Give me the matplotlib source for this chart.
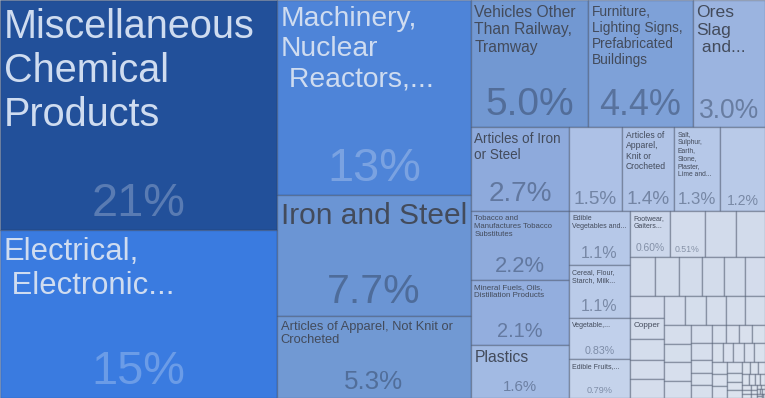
import matplotlib
matplotlib.use('Agg')
import matplotlib.pyplot as plt
import matplotlib.colors as mcolors
from matplotlib.patches import Rectangle

LARGURA, ALTURA = 765, 398  # tamanho da imagem em pixels (dpi 100)
PHI = (1 + 5 ** 0.5) / 2    # razao usada pelo squarify do d3

# Participacao de cada produto (%), em ordem decrescente
participacoes = [
    20.93, 15.28, 12.42, 7.71, 5.22,
    4.88, 4.38, 3.00,
    2.70, 2.22, 2.09, 1.71,
    1.47, 1.45, 1.27, 1.24,
    1.08, 1.07, 0.82, 0.78,
    0.59, 0.52, 0.47, 0.43,
    0.32, 0.31, 0.29, 0.28, 0.27, 0.26,
    0.25, 0.24, 0.23, 0.22, 0.21,
    0.20, 0.20, 0.19, 0.19, 0.19,
    0.16, 0.16, 0.16, 0.15,
    0.13, 0.12, 0.095, 0.09, 0.09,
    0.077, 0.077, 0.077, 0.077,
    0.066, 0.066, 0.066, 0.066, 0.066,
    0.059, 0.059, 0.059,
    0.05, 0.045, 0.04, 0.036, 0.033, 0.03, 0.027, 0.024, 0.021, 0.019,
    0.017, 0.015, 0.013, 0.011, 0.01, 0.009, 0.008, 0.007, 0.006, 0.005,
    0.004, 0.004, 0.003, 0.003, 0.002, 0.002,
]

# Nomes (ja quebrados em linhas como no original); "" = sem nome
nomes = [
    "Miscellaneous\nChemical\nProducts",
    "Electrical,\n Electronic...",
    "Machinery,\nNuclear\n Reactors,...",
    "Iron and Steel",
    "Articles of Apparel, Not Knit or\nCrocheted",
    "Vehicles Other\nThan Railway,\nTramway",
    "Furniture,\nLighting Signs,\nPrefabricated\nBuildings",
    "Ores\nSlag\n and...",
    "Articles of Iron\nor Steel",
    "Tobacco and\nManufactures Tobacco\nSubstitutes",
    "Mineral Fuels, Oils,\nDistillation Products",
    "Plastics",
    "",
    "Articles of\nApparel,\nKnit or\nCrocheted",
    "Salt,\nSulphur,\nEarth,\nStone,\nPlaster,\nLime and...",
    "",
    "Edible\nVegetables and...",
    "Cereal, Flour,\nStarch, Milk...",
    "Vegetable,...",
    "Edible Fruits,...",
    "Footwear,\nGaiters...",
    "",
    "", "", "", "", "", "", "", "", "",
    "Copper",
]

# Texto do percentual mostrado em cada bloco
textos_pct = [
    "21%", "15%", "13%", "7.7%", "5.3%", "5.0%", "4.4%", "3.0%",
    "2.7%", "2.2%", "2.1%", "1.6%", "1.5%", "1.4%", "1.3%", "1.2%",
    "1.1%", "1.1%", "0.83%", "0.79%", "0.60%", "0.51%",
]

# --- estilo ---------------------------------------------------------------
CORES_BLOCOS = [
    '#22509a', '#3a7be0', '#4e84d8', '#6b95d4', '#7199d3', '#7298d2',
    '#7ea1d8', '#9bb4e0', '#8eaadc', '#8fabdc', '#93aede', '#a2bae3',
    '#adc1e6', '#b0c3e6', '#b6c8e8', '#b9cae8', '#b6c8e8', '#bacbe9',
    '#c1d0eb', '#c5d3eb', '#ccd7eb', '#d3dcec',
]
COR_CAUDA_INI, COR_CAUDA_FIM = '#d2dbeb', '#e1e7f0'
ESCUROS = 3  # os tres primeiros blocos usam texto claro

# tamanho (px) do nome e do percentual de cada bloco rotulado
TAM_NOME = [39.6, 31, 28.2, 29.9, 12.9, 15.6, 13.7, 17.5, 13.5, 7.8, 8, 15.7,
            0, 8.7, 6.8, 0, 7, 7, 7, 7, 7, 0]
TAM_PCT = [47, 47, 47, 41, 26, 39, 36, 26.5, 28, 22, 20, 15,
           19, 19, 16.7, 14, 16, 16, 10.6, 9.2, 10.2, 8.8]
TAM_EXTRA = {31: 8.2}
ESPACO_LINHAS = 1.2


def squarify(valores, x0, y0, x1, y1, ratio=PHI):
    # mesma logica do d3.treemapSquarify (linhas com razao ~phi)
    rects = []
    n = len(valores)
    restante = float(sum(valores))
    i0 = 0
    while i0 < n:
        dx, dy = x1 - x0, y1 - y0
        i1 = i0 + 1
        soma = valores[i0]
        vmin = vmax = soma
        alpha = max(dy / dx, dx / dy) / (restante * ratio)
        beta = soma * soma * alpha
        melhor = max(vmax / beta, beta / vmin)
        while i1 < n:
            v = valores[i1]
            s = soma + v
            mn, mx = min(vmin, v), max(vmax, v)
            beta = s * s * alpha
            r = max(mx / beta, beta / mn)
            if r > melhor:
                break
            soma, vmin, vmax, melhor = s, mn, mx, r
            i1 += 1
        linha = valores[i0:i1]
        if dx < dy:  # linha horizontal no topo
            ny = y0 + dy * soma / restante
            x = x0
            for v in linha:
                w = dx * v / soma
                rects.append((x, y0, w, ny - y0))
                x += w
            y0 = ny
        else:  # coluna na esquerda
            nx = x0 + dx * soma / restante
            y = y0
            for v in linha:
                h = dy * v / soma
                rects.append((x0, y, nx - x0, h))
                y += h
            x0 = nx
        restante -= soma
        i0 = i1
    return rects


def cor_do_bloco(i, total):
    if i < len(CORES_BLOCOS):
        return CORES_BLOCOS[i]
    t = (i - len(CORES_BLOCOS)) / max(1, total - len(CORES_BLOCOS) - 1)
    a = mcolors.to_rgb(COR_CAUDA_INI)
    b = mcolors.to_rgb(COR_CAUDA_FIM)
    return tuple(a[k] + (b[k] - a[k]) * t for k in range(3))


def main():
    px2pt = 72 / 100
    fig = plt.figure(figsize=(LARGURA / 100, ALTURA / 100), dpi=100)
    ax = fig.add_axes([0, 0, 1, 1])
    ax.set_xlim(0, LARGURA)
    ax.set_ylim(ALTURA, 0)
    ax.axis('off')

    rects = squarify(participacoes, 0, 0, LARGURA, ALTURA)
    fonte = 'Liberation Sans'

    for i, (x, y, w, h) in enumerate(rects):
        ax.add_patch(Rectangle((x, y), w, h, facecolor=cor_do_bloco(i, len(rects)),
                               edgecolor=(0.15, 0.2, 0.3, 0.35), linewidth=1.0))

        escuro = i < ESCUROS
        nome = nomes[i] if i < len(nomes) else ""
        tam = TAM_NOME[i] if i < len(TAM_NOME) else TAM_EXTRA.get(i, 0)
        if nome and tam:
            ax.text(x + 3.5, y + 3 + 0.12 * tam, nome, ha='left', va='top',
                    fontsize=tam * px2pt, family=fonte, linespacing=ESPACO_LINHAS,
                    color='#cfdcf0' if escuro else '#434b5b')

        if i < len(textos_pct):
            tp = TAM_PCT[i]
            if escuro:
                cor, alfa = 'white', 0.25
            else:
                cor, alfa = '#2b3a55', 0.45
            ax.text(x + w / 2, y + h - (0.24 * tp + 3), textos_pct[i],
                    ha='center', va='baseline', fontsize=tp * px2pt,
                    family=fonte, color=cor, alpha=alfa)

    fig.savefig('out.png', dpi=100)


if __name__ == '__main__':
    main()
